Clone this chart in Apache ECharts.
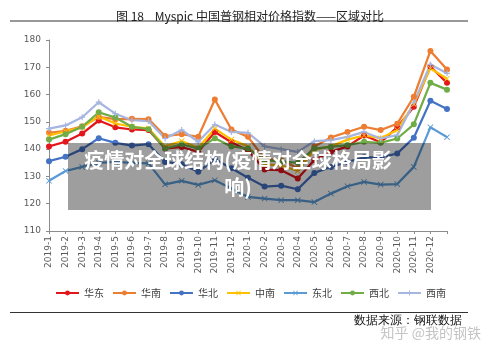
<!DOCTYPE html>
<html>
<head>
<meta charset="utf-8">
<script src="https://cdn.jsdelivr.net/npm/echarts@6/dist/echarts.min.js"></script>
<style>
  html, body { margin: 0; padding: 0; background: #fff; }
  #main { width: 500px; height: 353px; }
</style>
</head>
<body>
<div id="main"></div>
<script>
// 月份（最后一个点没有标签）
var months = ['2019-1', '2019-2', '2019-3', '2019-4', '2019-5', '2019-6', '2019-7', '2019-8', '2019-9', '2019-10', '2019-11', '2019-12',
  '2020-1', '2020-2', '2020-3', '2020-4', '2020-5', '2020-6', '2020-7', '2020-8', '2020-9', '2020-10', '2020-11', '2020-12', ''];

var huadong = [141, 142.7, 145.7, 150.5, 148, 147.2, 147, 140.2, 140.8, 139, 146.3, 142.5, 139.5, 132.5, 132.3, 129.2, 136, 139, 141, 145, 142.5, 148, 155.5, 170.3, 164.3];
var huanan = [146, 146.7, 148.4, 151.8, 151, 151.1, 151, 144.8, 145.5, 144.5, 158.2, 147.2, 144.5, 136.5, 136, 133, 141, 144.3, 146.3, 148.2, 147, 149.3, 159.2, 176, 169.2];
var huabei = [135.6, 137.2, 140, 144, 142.3, 141.3, 141.8, 135.3, 134.5, 131.7, 136.3, 133, 129.5, 126.3, 126.6, 125.3, 131.3, 133.5, 135.3, 137, 137, 138.4, 144.2, 157.7, 154.7];
var zhongnan = [145, 146.5, 148, 152, 149.4, 148.2, 147.6, 141, 143, 140.5, 147.5, 143.5, 141, 134.5, 134, 132, 139.8, 141, 143.5, 145, 144, 147, 156.5, 169.6, 165.8];
var dongbei = [128.4, 132, 133.5, 135, 135.3, 135, 134.8, 127.1, 128.4, 126.9, 128.6, 125.6, 122.5, 121.9, 121.3, 121.3, 120.6, 123.7, 126.4, 128, 127, 127.2, 133.5, 148, 144.4];
var xibei = [143.5, 145.5, 148.2, 153.5, 151.6, 148.2, 147.3, 140.2, 141.8, 140.2, 144, 141, 140.2, 136, 135.5, 135, 140.2, 140.8, 141.5, 142.7, 142.3, 143.9, 149.1, 164.3, 161.8];
var xinan = [147.5, 148.7, 151.7, 157.2, 153, 150.6, 150.3, 143.9, 147, 142.7, 149, 146.3, 146, 141, 140, 139, 142.9, 143.3, 144.5, 146.3, 143.9, 145.1, 157, 171, 167.8];

var yTicks = { min: 110, max: 180, step: 10 };

var CJK = '"Noto Sans CJK SC", "Noto Sans", sans-serif';
var symX = 'path://M1,0L5,4L9,0L10,1L6,5L10,9L9,10L5,6L1,10L0,9L4,5L0,1Z';
var symPlus = 'path://M4,0H6V4H10V6H6V10H4V6H0V4H4Z';

function line(name, data, color, symbol, size) {
  return {
    name: name,
    type: 'line',
    data: data,
    symbol: symbol,
    symbolSize: size,
    showSymbol: true,
    lineStyle: { color: color, width: 2.25 },
    itemStyle: { color: color, borderWidth: 0 },
    emphasis: { disabled: true },
    animation: false
  };
}

var chart = echarts.init(document.getElementById('main'));

var option = {
  backgroundColor: '#fff',
  textStyle: { fontFamily: CJK },
  title: {
    text: '图 18    Myspic 中国普钢相对价格指数——区域对比',
    left: 'center',
    top: 5,
    textStyle: { fontSize: 12, fontWeight: 'normal', color: '#222', fontFamily: CJK }
  },
  legend: {
    left: 50,
    top: 283,
    itemWidth: 23,
    itemHeight: 6,
    itemGap: 8,
    textStyle: { fontSize: 10, color: '#404040', fontFamily: CJK },
    data: ['华东', '华南', '华北', '中南', '东北', '西北', '西南']
  },
  grid: { left: 49, right: 53, top: 40, bottom: 122 },
  xAxis: {
    type: 'category',
    data: months,
    boundaryGap: false,
    axisLine: { lineStyle: { color: '#8c8c8c', width: 1 } },
    axisTick: { show: true, length: 3, interval: 0, lineStyle: { color: '#8c8c8c' } },
    axisLabel: { rotate: 90, interval: 0, fontSize: 9, color: '#595959', margin: 5, fontFamily: 'DejaVu Sans' },
    splitLine: { show: false }
  },
  yAxis: {
    type: 'value',
    min: yTicks.min,
    max: yTicks.max,
    interval: yTicks.step,
    axisLine: { show: true, lineStyle: { color: '#8c8c8c', width: 1 } },
    axisTick: { show: true, length: 3, lineStyle: { color: '#8c8c8c' } },
    axisLabel: { fontSize: 9, color: '#595959', margin: 8, fontFamily: 'DejaVu Sans' },
    splitLine: { show: false }
  },
  series: [
    line('华东', huadong, '#e3161c', 'circle', 6),
    line('华南', huanan, '#ed7d31', 'circle', 6),
    line('华北', huabei, '#4472c4', 'circle', 6),
    line('中南', zhongnan, '#ffc000', symX, 6),
    line('东北', dongbei, '#5b9bd5', symX, 6),
    line('西北', xibei, '#70ad47', 'circle', 6),
    line('西南', xinan, '#a6b6e0', symPlus, 6)
  ],
  graphic: [
    // 标题下横线
    { type: 'line', shape: { x1: 10, y1: 21, x2: 468, y2: 21 }, style: { stroke: '#333', lineWidth: 1 } },
    // 底部横线
    { type: 'line', shape: { x1: 10, y1: 312.5, x2: 468, y2: 312.5 }, style: { stroke: '#333', lineWidth: 1 } },
    {
      type: 'text', right: 38, top: 315,
      style: { text: '数据来源：钢联数据', fontSize: 12, fill: '#111', font: '12px ' + CJK }
    },
    {
      type: 'text', left: 380, top: 325,
      style: { text: '知乎 @我的钢铁', fill: '#c4c4c4', font: '14px ' + CJK, stroke: '#fff', lineWidth: 1 }
    },
    // 页面遮罩
    {
      type: 'rect', z: 100,
      shape: { x: 68, y: 143, width: 363, height: 67 },
      style: { fill: 'rgba(0,0,0,0.38)' }
    },
    {
      type: 'text', z: 101, x: 238, y: 147,
      style: {
        text: '疫情对全球结构(疫情对全球格局影\n响)',
        fill: '#fff',
        font: 'bold 20px ' + CJK,
        textAlign: 'center',
        textVerticalAlign: 'top',
        lineHeight: 27
      }
    }
  ]
};

chart.setOption(option);
</script>
</body>
</html>
